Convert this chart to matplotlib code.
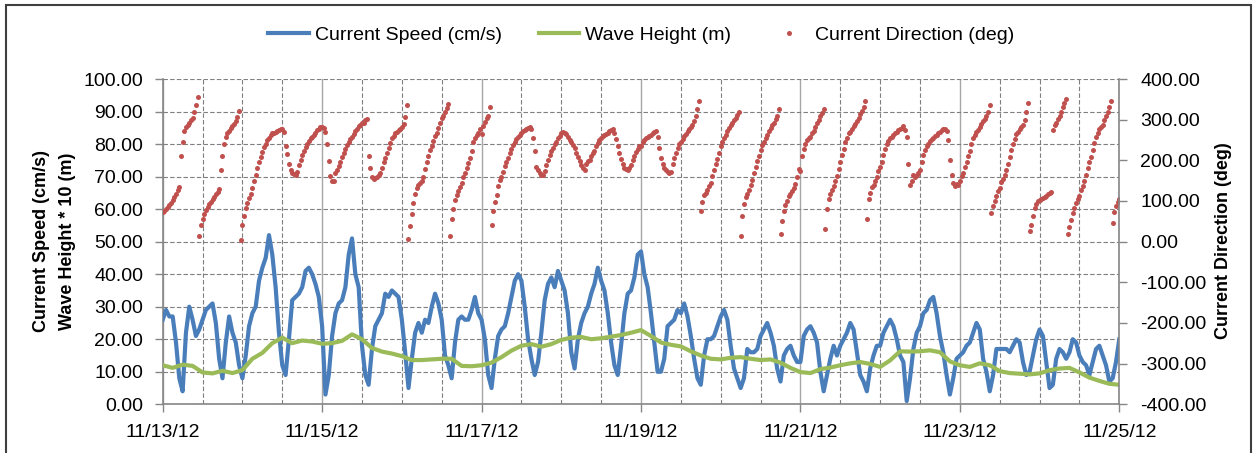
import numpy as np
import pandas as pd
import matplotlib
matplotlib.use('Agg')
import matplotlib.pyplot as plt
import matplotlib.dates as mdates
from matplotlib.ticker import FormatStrFormatter
from matplotlib.patches import Rectangle

plt.rcParams['font.family'] = ['Liberation Sans', 'DejaVu Sans']

# ---------------------------------------------------------------- data
start = '2012-11-13'

# current speed (cm/s), hourly, 11/13 00:00 .. 11/25 00:00
speed = [
    26, 29, 27, 27, 19, 8, 4, 22, 30, 26, 21, 23, 26, 29, 30, 31, 25, 14, 8, 19, 27, 22, 19, 12,
    8, 15, 24, 28, 30, 38, 42, 45, 52, 46, 36, 22, 12, 9, 20, 32, 33, 34, 36, 41, 42, 40, 37, 33,
    24, 3, 9, 21, 28, 31, 32, 36, 46, 51, 40, 36, 18, 9, 6, 17, 24, 26, 28, 34, 33, 35, 34, 33,
    26, 16, 5, 14, 22, 25, 22, 26, 25, 30, 34, 31, 26, 15, 12, 8, 19, 26, 27, 26, 26, 29, 33, 28,
    26, 20, 9, 5, 14, 21, 23, 24, 28, 33, 38, 40, 38, 30, 20, 14, 9, 13, 22, 32, 37, 39, 36, 41,
    38, 35, 28, 16, 11, 20, 25, 28, 30, 34, 37, 42, 38, 35, 28, 19, 12, 9, 18, 28, 34, 35, 39, 46,
    47, 40, 36, 28, 19, 10, 10, 14, 24, 25, 26, 29, 28, 31, 27, 21, 14, 8, 6, 15, 20, 20, 21, 24,
    27, 29, 26, 18, 11, 8, 5, 8, 17, 16, 16, 17, 21, 23, 25, 22, 18, 11, 7, 15, 17, 18, 15, 13,
    13, 21, 23, 24, 22, 19, 10, 4, 9, 14, 18, 15, 18, 20, 22, 25, 23, 16, 9, 7, 4, 11, 15, 18,
    18, 22, 24, 26, 24, 20, 15, 13, 1, 8, 17, 22, 24, 28, 29, 32, 33, 28, 21, 16, 9, 3, 8, 14,
    15, 16, 18, 19, 22, 25, 23, 14, 10, 4, 9, 17, 17, 17, 17, 16, 18, 20, 19, 13, 9, 10, 15, 20,
    23, 21, 13, 5, 6, 14, 17, 16, 14, 16, 20, 19, 15, 13, 12, 9, 13, 17, 18, 15, 12, 7, 8, 13,
    20,
]

# wave height * 10 (m), every 3 hours
wave = [
    12, 11.2, 12.2, 11.8, 9.8, 9.5, 10.3, 9.6, 10.5, 14, 15.8, 18.8, 20.5, 18.8, 19.6, 19.3,
    18.6, 18.8, 19.5, 21.5, 20, 17.3, 16.2, 15.6, 14.8, 13.6, 13.6, 13.8, 14, 14, 11.8, 11.7,
    12, 12.8, 14.5, 16.5, 18, 18.5, 17.7, 18.5, 19.8, 20.5, 20.7, 20, 20.3, 20.8, 21.3, 22,
    22.8, 21, 19, 18.3, 17.8, 16.3, 15, 14, 13.8, 14.3, 14.5, 14, 13.6, 13.8, 12.8, 11.2,
    9.9, 9.6, 10.8, 11.3, 12, 12.6, 13, 12.4, 11.5, 13.5, 16.3, 16.2, 16.3, 16.6, 16, 13.2,
    12, 11.5, 12.6, 12, 10.2, 9.6, 9.4, 9.2, 9.5, 10.5, 11, 11.2, 9.8, 8.2, 7.2, 6.3,
    6.0,
]

# current direction (deg), every 30 min
direction = [
    72, 76, 80, 85, 90, 95, 103, 110, 118, 127, 135, 211, 245, 272, 282, 287, 292, 298, 305, 318,
    335, 355, 15, 40, 55, 68, 78, 85, 92, 98, 104, 110, 116, 122, 130, 175, 210, 240, 258, 266,
    272, 280, 284, 290, 296, 306, 322, 5, 40, 64, 82, 95, 108, 118, 132, 150, 165, 182, 195, 208,
    220, 232, 240, 249, 256, 262, 266, 268, 270, 273, 275, 277, 276, 270, 235, 215, 192, 175, 168, 166,
    163, 172, 188, 200, 212, 222, 232, 240, 248, 254, 258, 262, 268, 274, 277, 281,
    281, 280, 270, 240, 199, 162, 150, 148, 168, 176, 185, 195, 207, 218, 228, 238, 246, 253, 258, 265,
    272, 278, 284, 288, 291, 293, 298, 302, 210, 180, 160, 155, 157, 160, 163, 168, 180, 195, 205, 218,
    230, 243, 254, 261, 266, 270, 274, 278, 282, 290, 306, 335, 6, 38, 68, 95, 118, 132, 139, 144,
    148, 158, 178, 195, 210, 225, 236, 248, 259, 268, 280, 292, 303, 310, 318, 328, 338, 15, 55, 80,
    103, 115, 124, 134, 145, 158, 170, 182, 194, 206, 222, 244, 256, 262, 268, 276,
    265, 284, 295, 304, 310, 330, 40, 75, 98, 115, 138, 152, 159, 172, 186, 196, 206, 218, 229, 237,
    245, 252, 258, 262, 266, 271, 275, 277, 279, 281, 278, 256, 222, 183, 176, 168, 163, 165, 174, 188,
    202, 213, 222, 230, 240, 246, 254, 260, 266, 270, 268, 264, 257, 250, 246, 238, 230, 218, 208, 198,
    188, 180, 177, 190, 198, 202, 210, 218, 224, 234, 242, 250, 255, 259, 262, 264, 268, 272, 275, 277,
    268, 252, 236, 219, 203, 190, 180, 178, 176, 180, 188, 200, 210, 220, 228, 236,
    236, 246, 250, 255, 258, 260, 262, 266, 270, 272, 258, 230, 205, 190, 180, 176, 172, 168, 172, 190,
    205, 218, 230, 239, 246, 253, 259, 265, 271, 276, 282, 288, 297, 310, 325, 345, 75, 98, 115, 120,
    128, 136, 145, 162, 175, 190, 203, 217, 234, 245, 255, 262, 271, 279, 286, 292, 299, 305, 312, 320,
    15, 62, 92, 110, 118, 128, 139, 152, 170, 184, 198, 211, 226, 238, 246, 254, 262, 271, 279, 286,
    293, 301, 310, 325, 18, 50, 76, 90, 100, 112, 118, 124, 132, 143, 158, 178,
    174, 210, 228, 240, 250, 254, 258, 266, 272, 282, 292, 300, 308, 316, 325, 30, 80, 105, 118, 127,
    137, 148, 162, 178, 196, 212, 228, 246, 256, 266, 270, 278, 284, 290, 296, 303, 314, 322, 332, 345,
    55, 105, 120, 134, 140, 148, 160, 174, 184, 197, 213, 228, 240, 248, 254, 258, 262, 266, 270, 275,
    278, 280, 284, 275, 258, 190, 140, 150, 164, 158, 163, 168, 175, 195, 212, 225, 234, 241, 247, 252,
    256, 260, 263, 267, 270, 274, 277, 277, 272, 250, 200, 165, 145, 138, 143, 140,
    150, 162, 170, 183, 195, 210, 222, 240, 254, 262, 270, 275, 282, 289, 296, 302, 310, 318, 335, 70,
    88, 100, 113, 125, 133, 146, 154, 163, 175, 192, 208, 225, 240, 252, 264, 270, 277, 281, 286, 300,
    318, 340, 25, 42, 64, 82, 92, 100, 103, 105, 107, 109, 113, 117, 119, 122, 275, 288, 293, 302,
    310, 318, 330, 342, 352, 20, 37, 53, 70, 82, 94, 104, 112, 126, 136, 150, 164, 180, 197, 209,
    225, 242, 258, 268, 276, 281, 286, 300, 310, 320, 332, 346, 45, 72, 88, 98, 106,
]

t_speed = pd.date_range(start, periods=len(speed), freq='h')
t_wave = pd.date_range(start, periods=len(wave), freq='3h')
t_dir = pd.date_range(start, periods=len(direction), freq='30min')

# ---------------------------------------------------------------- figure
W, H = 1255, 453
fig = plt.figure(figsize=(W / 100, H / 100), dpi=100)
ax = fig.add_axes([162.7 / W, 1 - 404.3 / H, (1119.3 - 162.7) / W, (404.3 - 79) / H])

gray = '#868686'
ln_speed, = ax.plot(t_speed, speed, color='#4A7EBB', lw=3.0, zorder=3,
                    solid_joinstyle='round', label='Current Speed (cm/s)')
ln_wave, = ax.plot(t_wave, wave, color='#9BBB59', lw=3.0, zorder=4,
                   solid_joinstyle='round', label='Wave Height (m)')

ax.set_ylim(0, 100)
ax.set_yticks(np.arange(0, 101, 10))
ax.yaxis.set_major_formatter(FormatStrFormatter('%.2f'))
ax.set_xlim(pd.Timestamp('2012-11-13'), pd.Timestamp('2012-11-25'))
ax.xaxis.set_major_locator(mdates.DayLocator(interval=2))
ax.xaxis.set_major_formatter(mdates.DateFormatter('%m/%d/%y'))
ax.xaxis.set_minor_locator(mdates.HourLocator(byhour=[0, 12]))

ax.grid(axis='y', which='major', color='#7F7F7F', lw=0.8, ls=(0, (4, 2)))
ax.grid(axis='x', which='minor', color='#7F7F7F', lw=0.8, ls=(0, (4, 2)))
ax.grid(axis='x', which='major', color='#A6A6A6', lw=1.0, ls='-')
ax.set_axisbelow(True)

ax.tick_params(axis='x', which='major', direction='out', length=6, width=1,
               color=gray, labelsize=14, pad=8)
ax.tick_params(axis='x', which='minor', length=0)
ax.tick_params(axis='y', direction='out', length=6, width=1, color=gray,
               labelsize=14, pad=8)
for s in ['top', 'right']:
    ax.spines[s].set_visible(False)
for s in ['left', 'bottom']:
    ax.spines[s].set_color(gray)
    ax.spines[s].set_linewidth(1.2)

ax2 = ax.twinx()
ln_dir, = ax2.plot(t_dir, direction, 'o', color='#C0504D', ms=3.6, mec='none',
                   label='Current Direction (deg)')
ax2.set_ylim(-400, 400)
ax2.set_yticks(np.arange(-400, 401, 100))
ax2.yaxis.set_major_formatter(FormatStrFormatter('%.2f'))
ax2.tick_params(axis='y', direction='out', length=6, width=1, color=gray,
                labelsize=14, pad=9)
for s in ['top', 'left', 'bottom']:
    ax2.spines[s].set_visible(False)
ax2.spines['right'].set_color(gray)
ax2.spines['right'].set_linewidth(1.2)

# axis titles
fig.text(42 / W, 1 - 241 / H, 'Current Speed (cm/s)', rotation=90, fontsize=13,
         fontweight='bold', ha='center', va='center')
fig.text(67 / W, 1 - 241 / H, 'Wave Height * 10 (m)', rotation=90, fontsize=13,
         fontweight='bold', ha='center', va='center')
fig.text(1224 / W, 1 - 241 / H, 'Current Direction (deg)', rotation=90, fontsize=13,
         fontweight='bold', ha='center', va='center')

# legend
fig.legend([ln_speed, ln_wave, ln_dir],
           ['Current Speed (cm/s)', 'Wave Height (m)', 'Current Direction (deg)'],
           loc='center', bbox_to_anchor=(641 / W, 1 - 35 / H), ncol=3, frameon=False,
           fontsize=14, handlelength=2.1, handletextpad=0.3, columnspacing=1.9,
           numpoints=1)

# outer frame
fig.add_artist(Rectangle((6 / W, -0.1), (1251 - 6) / W, 1.1 - 5 / H,
                         transform=fig.transFigure, fill=False,
                         ec='#3F3F3F', lw=1.5))

fig.savefig('out.png', dpi=100)
